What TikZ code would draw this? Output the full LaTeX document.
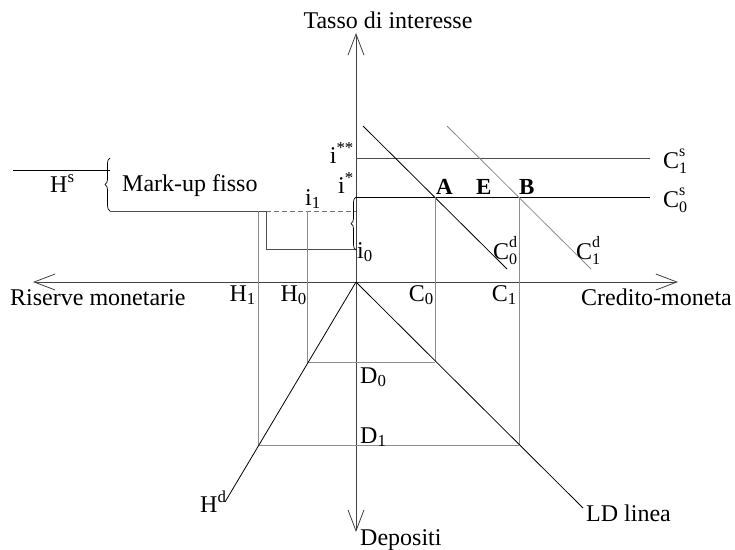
\documentclass[tikz,border=0pt]{standalone}
\usepackage{fontspec}
\setmainfont{Liberation Serif}
\usetikzlibrary{arrows.meta,decorations.pathreplacing}
\newcommand{\scrfont}{\fontsize{16}{16}\selectfont}
\newcommand{\supsub}[3]{#1\rlap{\raisebox{0.5em}{\scrfont #2}}\raisebox{-0.22em}{\scrfont #3}}
\begin{document}
\begin{tikzpicture}[x=1pt,y=-1pt,
  every node/.style={font=\fontsize{24}{28}\selectfont,inner sep=0pt},
  lbl/.style={anchor=base west},
  lblr/.style={anchor=base east},
  axisline/.style={draw=black!75,line width=0.8pt,-{Straight Barb[length=21pt,width=16pt]}},
  blk/.style={draw=black,line width=0.8pt},
  dgr/.style={draw=black!70,line width=0.8pt},
  gln/.style={draw=black!45,line width=0.8pt},
  brc/.style={draw=black,line width=0.7pt,decorate,decoration={brace,amplitude=5pt}}]
\useasboundingbox (0,0) rectangle (735,549);
% coordinates
\coordinate (O) at (356,282);
\coordinate (Tt) at (356,33);
\coordinate (Bt) at (356,532);
\coordinate (Lt) at (33,282);
\coordinate (Rt) at (678,282);
\coordinate (hs1) at (13,170);
\coordinate (hs2) at (110,170);
\coordinate (bl1) at (110,211);
\coordinate (bl2) at (110,158);
\coordinate (m2) at (266,211);
\coordinate (ax1) at (356,211);
\coordinate (bx) at (266,249);
\coordinate (i0) at (356,249);
\coordinate (br1) at (356,250);
\coordinate (br2) at (356,197);
\coordinate (iss) at (356,158);
\coordinate (iss2) at (650,158);
\coordinate (is2) at (650,197);
\coordinate (cd0a) at (363,126);
\coordinate (cd0b) at (507,269);
\coordinate (cd1a) at (447,126);
\coordinate (cd1b) at (591,269);
\coordinate (A) at (435,197);
\coordinate (B) at (519,197);
\coordinate (h1t) at (258,211);
\coordinate (h0t) at (307,211);
\coordinate (d0l) at (307,362);
\coordinate (d0r) at (435,362);
\coordinate (d1l) at (258,445);
\coordinate (d1r) at (519,445);
\coordinate (ld) at (583,508);
\coordinate (hd) at (225,502);
% axes
\draw[axisline] (O) -- (Tt);
\draw[axisline] (O) -- (Bt);
\draw[axisline] (O) -- (Lt);
\draw[axisline] (O) -- (Rt);
% left part
\draw[blk] (hs1) -- (hs2);
\draw[brc] (bl1) -- (bl2);
\draw[dgr] (bl1) -- (m2);
\draw[draw=black!55,line width=0.8pt,dash pattern=on 5pt off 3pt] (m2) -- (ax1);
\draw[dgr] (m2) -- (bx) -- (i0);
\draw[brc] (br1) -- (br2);
% supply lines
\draw[dgr] (iss) -- (iss2);
\draw[blk] (br2) -- (is2);
% demand lines
\draw[blk] (cd0a) -- (cd0b);
\draw[gln] (cd1a) -- (cd1b);
% gray projections
\draw[gln] (A) -- (d0r);
\draw[gln] (B) -- (d1r);
\draw[gln] (h1t) -- (d1l);
\draw[gln] (h0t) -- (d0l);
\draw[gln] (d0l) -- (d0r);
\draw[gln] (d1l) -- (d1r);
% lower lines
\draw[blk] (O) -- (ld);
\draw[blk] (O) -- (hd);
% labels
\node[anchor=base] (tit) at (388,28) {Tasso di interesse};
\node[lbl] (ris) at (10,305) {Riserve monetarie};
\node[lbl] (cre) at (581,305) {Credito-moneta};
\node[lbl] (dep) at (360,545) {Depositi};
\node[lbl] (ldl) at (586,521) {LD linea};
\node[lbl] (hdl) at (200,512) {H\textsuperscript{d}};
\node[lbl] (hsl) at (50,192) {H\textsuperscript{s}};
\node[lbl] (mkl) at (122,191) {Mark-up fisso};
\node[lblr] (issl) at (354,163) {i\textsuperscript{**}};
\node[lblr] (isl) at (354,193) {i\textsuperscript{*}};
\node[lbl] (i1l) at (305,205) {i\textsubscript{1}};
\node[lbl] (i0l) at (357,258) {i\textsubscript{0}};
\node[lbl,font=\fontsize{23}{27}\selectfont\bfseries] (Al) at (436,194) {A};
\node[lbl,font=\fontsize{23}{27}\selectfont\bfseries] (El) at (476,194) {E};
\node[lbl,font=\fontsize{23}{27}\selectfont\bfseries] (Bl) at (519,194) {B};
\node[lbl] (c1s) at (663,168) {\supsub{C}{s}{1}};
\node[lbl] (c0s) at (663,207) {\supsub{C}{s}{0}};
\node[lbl] (c0d) at (493,259) {\supsub{C}{d}{0}};
\node[lbl] (c1d) at (576,259) {\supsub{C}{d}{1}};
\node[lblr] (h1l) at (256,301) {H\textsubscript{1}};
\node[lblr] (h0l) at (307,301) {H\textsubscript{0}};
\node[lblr] (c0l) at (434,301) {C\textsubscript{0}};
\node[lblr] (c1l) at (517,301) {C\textsubscript{1}};
\node[lbl] (d0l) at (360,383) {D\textsubscript{0}};
\node[lbl] (d1l) at (360,443) {D\textsubscript{1}};
\end{tikzpicture}
\end{document}
